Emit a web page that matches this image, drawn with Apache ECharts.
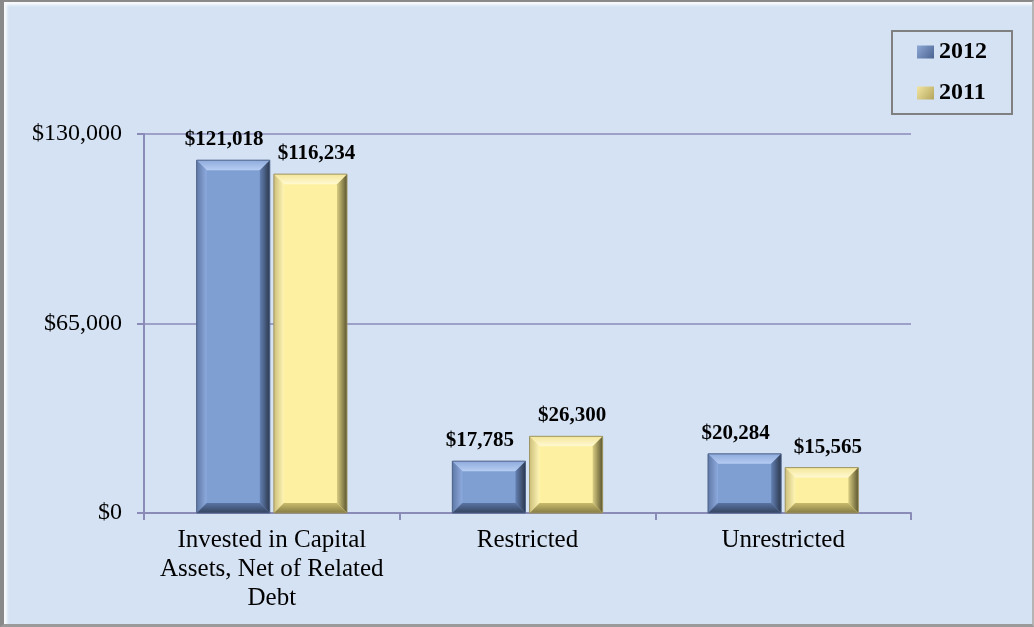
<!DOCTYPE html>
<html>
<head>
<meta charset="utf-8">
<script src="https://cdn.jsdelivr.net/npm/echarts@6/dist/echarts.min.js"></script>
<style>
html,body{margin:0;padding:0;background:#d4e2f3;}
#wrap{position:relative;width:1034px;height:627px;overflow:hidden;}
#chart{position:absolute;left:0;top:0;width:1034px;height:627px;}
#frame{position:absolute;left:0;top:0;width:1034px;height:627px;box-sizing:border-box;
 border-left:4px solid #8a8a8a;border-top:2px solid #8a8a8a;border-bottom:3px solid #9a9a9a;border-right:2px solid #b4b4b4;
 box-shadow:inset 3px 3px 3px rgba(255,255,255,0.85);pointer-events:none;}
</style>
</head>
<body>
<div id="wrap"><div id="chart"></div><div id="frame"></div></div>
<script>
const categories = ['Invested in Capital\nAssets, Net of Related\nDebt', 'Restricted', 'Unrestricted'];
const seriesNames = ['2012', '2011'];
const values2012 = [121018, 17785, 20284];
const values2011 = [116234, 26300, 15565];
const yTicks = [0, 65000, 130000];

const FONT = '"Liberation Serif", "DejaVu Serif", serif';
function lg(x0, y0, x1, y1, c0, c1){
  return new echarts.graphic.LinearGradient(x0, y0, x1, y1, [{offset:0, color:c0},{offset:1, color:c1}]);
}
const palettes = [
  {main:'#7f9fd3', topOut:'#8fabdc', topIn:'#b6cdf3', leftOut:'#5f79a6', leftIn:'#8eaade',
   rightOut:'#2c384e', rightIn:'#6481b3', botOut:'#34435f', botIn:'#5a74a3', edge:'#4d6288', labelDx:-9},
  {main:'#fdf0a0', topOut:'#f4e69a', topIn:'#fff9d2', leftOut:'#cdbf7c', leftIn:'#fff5b4',
   rightOut:'#5c5630', rightIn:'#d9cd82', botOut:'#857c45', botIn:'#c9bb6c', edge:'#9d9362', labelDx:6}
];
function fmt(v){ return '$' + v.toLocaleString('en-US'); }

function makeRender(si){
  const p = palettes[si];
  return function(params, api){
    const ci = api.value(0), v = api.value(1);
    const base = api.coord([ci, 0]);
    const top = api.coord([ci, v]);
    const band = api.size([1, 0])[0];
    const bw = band * 0.286, gap = band * 0.016;
    const cx = base[0] + (si === 0 ? -(bw + gap) / 2 : (bw + gap) / 2);
    const x0 = cx - bw / 2, x1 = cx + bw / 2, y0 = top[1], y1 = base[1];
    const b = Math.min(10, (y1 - y0) / 2);
    return {
      type:'group',
      children:[
        {type:'rect', shape:{x:x0, y:y0, width:bw, height:y1-y0}, style:{fill:p.main}},
        {type:'polygon', shape:{points:[[x0,y0],[x1,y0],[x1-b,y0+b],[x0+b,y0+b]]}, style:{fill:lg(0,0,0,1,p.topOut,p.topIn)}},
        {type:'polygon', shape:{points:[[x0,y0],[x0+b,y0+b],[x0+b,y1-b],[x0,y1]]}, style:{fill:lg(0,0,1,0,p.leftOut,p.leftIn)}},
        {type:'polygon', shape:{points:[[x1,y0],[x1,y1],[x1-b,y1-b],[x1-b,y0+b]]}, style:{fill:lg(1,0,0,0,p.rightOut,p.rightIn)}},
        {type:'polygon', shape:{points:[[x0,y1],[x0+b,y1-b],[x1-b,y1-b],[x1,y1]]}, style:{fill:lg(0,1,0,0,p.botOut,p.botIn)}},
        {type:'rect', shape:{x:x0, y:y0, width:bw, height:y1-y0}, style:{fill:'none', stroke:p.edge, lineWidth:1}},
        {type:'text', style:{text:fmt(v), x:cx + p.labelDx, y:y0-10, align:'center', verticalAlign:'bottom',
          font:'bold 21px ' + FONT, fill:'#000'}}
      ]
    };
  };
}

const chart = echarts.init(document.getElementById('chart'), null, {renderer:'canvas'});
chart.setOption({
  backgroundColor:'#d4e2f3',
  animation:false,
  legend:{
    data:[
      {name:seriesNames[0], itemStyle:{color:lg(0,0,1,1,'#8ea8d6','#4a6390')}},
      {name:seriesNames[1], itemStyle:{color:lg(0,0,1,1,'#f3e6a2','#b3a55c')}}
    ],
    orient:'vertical', right:22, top:31,
    icon:'rect', itemWidth:17, itemHeight:13, itemGap:17,
    padding:[9,25,9,25], borderColor:'#808080', borderWidth:2,
    textStyle:{fontFamily:FONT, fontWeight:'bold', fontSize:24, color:'#000'}
  },
  grid:{left:144, right:123, top:134, bottom:114, containLabel:false},
  xAxis:{
    type:'category', data:categories,
    axisLine:{lineStyle:{color:'#8b8bb8', width:2}},
    axisTick:{show:true, length:7, lineStyle:{color:'#8b8bb8', width:2}},
    axisLabel:{fontFamily:FONT, fontSize:25, color:'#000', margin:13, lineHeight:29, interval:0}
  },
  yAxis:{
    type:'value', min:yTicks[0], max:yTicks[2], interval:yTicks[1],
    axisLine:{show:true, lineStyle:{color:'#8b8bb8', width:2}},
    axisTick:{show:true, length:7, lineStyle:{color:'#8b8bb8', width:2}},
    splitLine:{lineStyle:{color:'#8b8bb8', width:1.5}},
    axisLabel:{fontFamily:FONT, fontSize:24, color:'#000', margin:22, formatter:function(v){return fmt(v);}}
  },
  series:[
    {name:seriesNames[0], type:'custom', renderItem:makeRender(0), itemStyle:{color:'#6a87bb'},
     data:values2012.map((v,i)=>[i,v]), encode:{x:0, y:1}},
    {name:seriesNames[1], type:'custom', renderItem:makeRender(1), itemStyle:{color:'#e5d68a'},
     data:values2011.map((v,i)=>[i,v]), encode:{x:0, y:1}}
  ]
});
</script>
</body>
</html>
